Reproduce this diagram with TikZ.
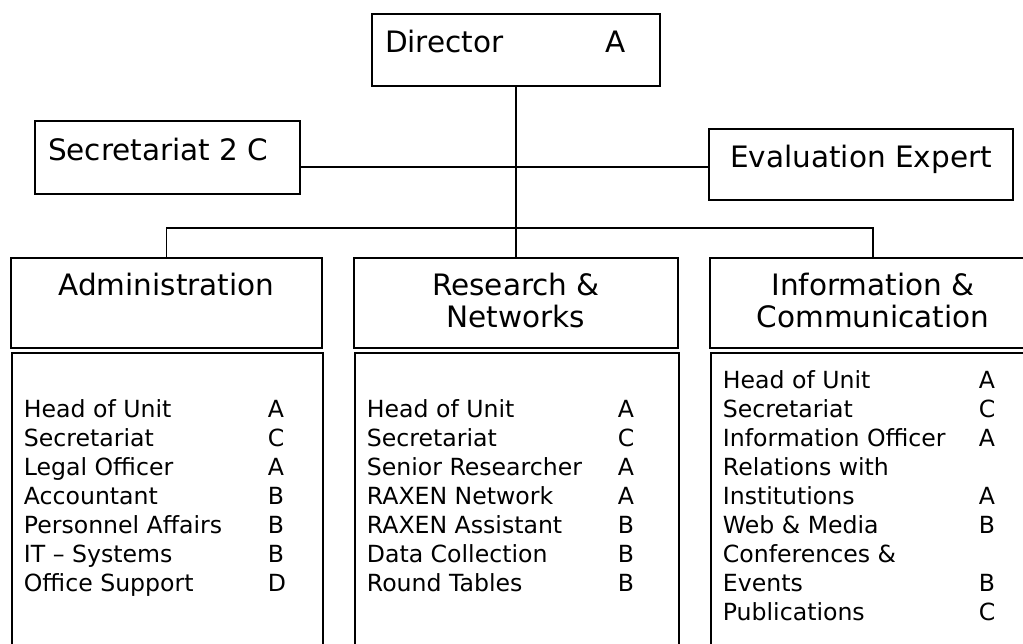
\documentclass[tikz,border=0pt]{standalone}
\usepackage{fontspec}
\setmainfont{DejaVu Sans}
\usepackage{tikz}
\usetikzlibrary{calc}

\tikzset{
  boss/.style={draw, line width=1.8pt, inner ysep=0pt, inner xsep=13pt,
    font=\fontsize{29.5}{32}\selectfont},
  unithead/.style={boss, inner xsep=0pt, minimum height=90pt,
    text height=37pt, text depth=53pt},
  stafflist/.style={draw, line width=1.8pt, inner ysep=0pt, inner xsep=12pt,
    anchor=north west, font=\fontsize{23.6}{29}\selectfont},
  link/.style={line width=1.4pt},
}
\newcommand{\unitname}[1]{\begin{tabular}[t]{@{}c@{}}#1\end{tabular}}
\newcommand{\grades}[2]{\begin{tabular}[t]{@{}p{#1}@{}l@{}}#2\end{tabular}}

\begin{document}
\begin{tikzpicture}[x=1pt,y=-1pt]
      \useasboundingbox (0,0) rectangle (1023,643);
      \clip (0,0) rectangle (1023,643);
      % top level
      \node[boss, minimum width=288pt, text height=38pt, text depth=34pt] (director) at (516,50)
        {\makebox[262pt][l]{\makebox[220pt][l]{Director}A}};
      \node[boss, text height=39pt, text depth=34pt] (secr) at (167.5,157.5)
        {\makebox[239pt][l]{Secretariat 2 C}};
      \node[boss, minimum width=304pt, text height=38pt, text depth=33pt] (evalx) at (861,164.5)
        {Evaluation Expert};
      % units
      \node[unithead, minimum width=311pt] (admhead) at (166.5,303) {\unitname{Administration}};
      \node[unithead, minimum width=324pt] (reshead) at (516,303) {\unitname{Research \&\\Networks}};
      \node[unithead, minimum width=326pt] (infohead) at (873,303) {\unitname{Information \&\\Communication}};
      % staff of each unit
      \node[stafflist, text height=65pt, text depth=285pt] (admstaff) at (11,352)
        {\makebox[287pt][l]{\grades{244pt}{Head of Unit & A\\ Secretariat & C\\ Legal Officer & A\\
          Accountant & B\\ Personnel Affairs & B\\ IT -- Systems & B\\ Office Support & D}}};
      \node[stafflist, text height=65pt, text depth=285pt] (resstaff) at (354,352)
        {\makebox[300pt][l]{\grades{251pt}{Head of Unit & A\\ Secretariat & C\\ Senior Researcher & A\\
          RAXEN Network & A\\ RAXEN Assistant & B\\ Data Collection & B\\ Round Tables & B}}};
      \node[stafflist, text height=36pt, text depth=314pt] (infostaff) at (710,352)
        {\makebox[302pt][l]{\grades{256pt}{Head of Unit & A\\ Secretariat & C\\ Information Officer & A\\
          Relations with & \\ Institutions & A\\ Web \& Media & B\\ Conferences \& & \\ Events & B\\
          Publications & C}}};
      % connectors
      \coordinate (hub) at (516,167);
      \coordinate (bus) at (516,228);
      \draw[link] (director.south) -- (reshead.north);
      \draw[link] (hub -| secr.east) -- (hub -| evalx.west);
      \draw[link] (admhead.north) |- (bus) -| (infohead.north);
    \end{tikzpicture}
\end{document}
